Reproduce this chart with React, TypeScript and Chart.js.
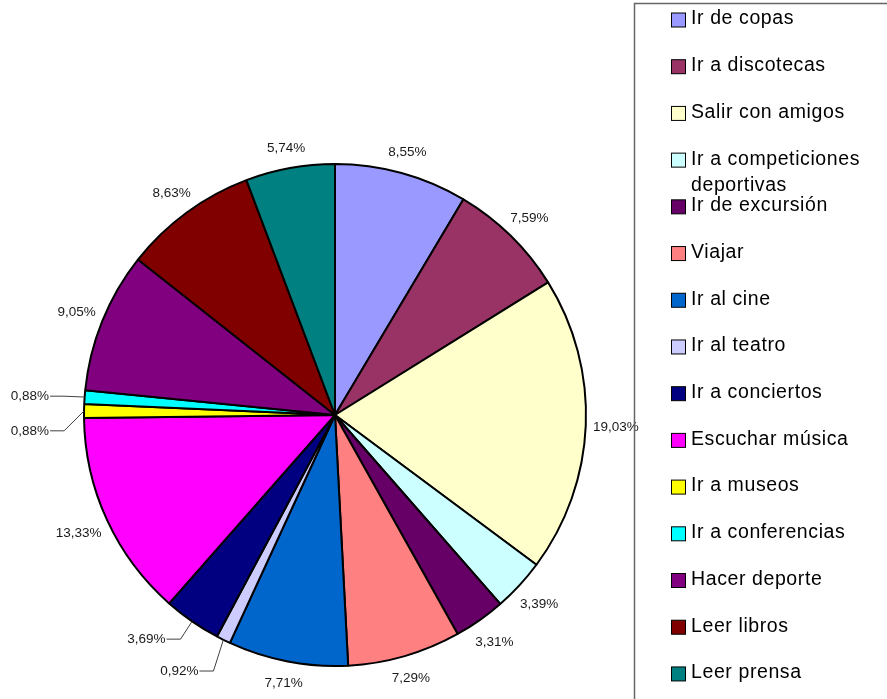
import React, { useEffect, useRef } from "react";
import { Chart, registerables } from "chart.js";

Chart.register(...registerables);

const categories: string[] = [
  "Ir de copas",
  "Ir a discotecas",
  "Salir con amigos",
  "Ir a competiciones deportivas",
  "Ir de excursión",
  "Viajar",
  "Ir al cine",
  "Ir al teatro",
  "Ir a conciertos",
  "Escuchar música",
  "Ir a museos",
  "Ir a conferencias",
  "Hacer deporte",
  "Leer libros",
  "Leer prensa",
];

const percentages: number[] = [
  8.55, 7.59, 19.03, 3.39, 3.31, 7.29, 7.71, 0.92, 3.69, 13.33, 0.88, 0.88, 9.05, 8.63, 5.74,
];

const sliceColors: string[] = [
  "#9999FF",
  "#993366",
  "#FFFFCC",
  "#CCFFFF",
  "#660066",
  "#FF8080",
  "#0066CC",
  "#CCCCFF",
  "#000080",
  "#FF00FF",
  "#FFFF00",
  "#00FFFF",
  "#800080",
  "#800000",
  "#008080",
];

// Legend wrapping: text lines per legend entry
const legendLines: string[][] = categories.map((c) =>
  c === "Ir a competiciones deportivas" ? ["Ir a competiciones", "deportivas"] : [c]
);

// Layout for labels moved away from small slices (text right end, in radius units from centre)
const leaderLayout: Record<number, [number, number]> = {
  7: [-0.544, 1.02],
  8: [-0.675, 0.893],
  10: [-1.139, 0.063],
  11: [-1.139, -0.075],
};

const fmt = (v: number) => v.toFixed(2).replace(".", ",") + "%";

const overlayPlugin = {
  id: "overlay",
  afterDraw(chart: any) {
    const ctx: CanvasRenderingContext2D = chart.ctx;
    const meta = chart.getDatasetMeta(0);
    ctx.save();
    ctx.font = '13.5px "Liberation Sans", Arial, sans-serif';
    ctx.fillStyle = "#1a1a1a";
    ctx.textBaseline = "middle";
    meta.data.forEach((arc: any, i: number) => {
      const p = arc.getProps(["x", "y", "startAngle", "endAngle", "outerRadius"], true);
      const mid = (p.startAngle + p.endAngle) / 2;
      const R = p.outerRadius;
      const text = fmt(percentages[i]);
      const lay = leaderLayout[i];
      if (lay) {
        const tx = p.x + lay[0] * R;
        const ty = p.y + lay[1] * R;
        const ex = p.x + Math.cos(mid) * R;
        const ey = p.y + Math.sin(mid) * R;
        ctx.textAlign = "right";
        ctx.fillText(text, tx, ty);
        ctx.strokeStyle = "#404040";
        ctx.lineWidth = 1;
        ctx.beginPath();
        ctx.moveTo(tx + 1, ty);
        ctx.lineTo(tx + 15, ty);
        ctx.lineTo(ex, ey);
        ctx.stroke();
      } else {
        const w = ctx.measureText(text).width;
        const h = 13;
        const c = Math.cos(mid);
        const s = Math.sin(mid);
        const r = R + 12 + Math.abs(c) * (w / 2 - 5) + Math.abs(s) * h / 2;
        ctx.textAlign = "center";
        ctx.fillText(text, p.x + c * r, p.y + s * r + 1);
      }
    });

    // Legend box
    ctx.strokeStyle = "#666666";
    ctx.lineWidth = 1.5;
    ctx.beginPath();
    ctx.moveTo(634.5, 760);
    ctx.lineTo(634.5, 3.5);
    ctx.lineTo(900, 3.5);
    ctx.stroke();

    ctx.font = '19.5px "Liberation Sans", Arial, sans-serif';
    (ctx as any).letterSpacing = "0.6px";
    ctx.textAlign = "left";
    ctx.textBaseline = "middle";
    const step = 46.71;
    categories.forEach((_, i) => {
      const cy = 20 + i * step;
      ctx.fillStyle = sliceColors[i];
      ctx.fillRect(671.5, cy - 7, 14, 14);
      ctx.strokeStyle = "#000";
      ctx.lineWidth = 1;
      ctx.strokeRect(671.5, cy - 7, 14, 14);
      ctx.fillStyle = "#000";
      legendLines[i].forEach((line, j) => {
        ctx.fillText(line, 691, cy - 1 + j * 26);
      });
    });
    ctx.restore();
  },
};

export default function App() {
  const ref = useRef<HTMLCanvasElement | null>(null);
  useEffect(() => {
    if (!ref.current) return;
    const chart = new Chart(ref.current, {
      type: "pie",
      data: {
        labels: categories,
        datasets: [
          {
            data: percentages,
            backgroundColor: sliceColors,
            borderColor: "#000000",
            borderWidth: 2,
          },
        ],
      },
      options: {
        animation: false,
        responsive: false,
        layout: { padding: { left: 83, right: 300, top: 163, bottom: 32 } },
        plugins: {
          legend: { display: false },
          tooltip: { enabled: false },
        },
      },
      plugins: [overlayPlugin],
    });
    return () => chart.destroy();
  }, []);
  return (
    <div style={{ position: "fixed", left: 0, top: 0, width: 887, height: 699, background: "#fff" }}>
      <canvas ref={ref} width={887} height={699} style={{ width: 887, height: 699 }} />
    </div>
  );
}
